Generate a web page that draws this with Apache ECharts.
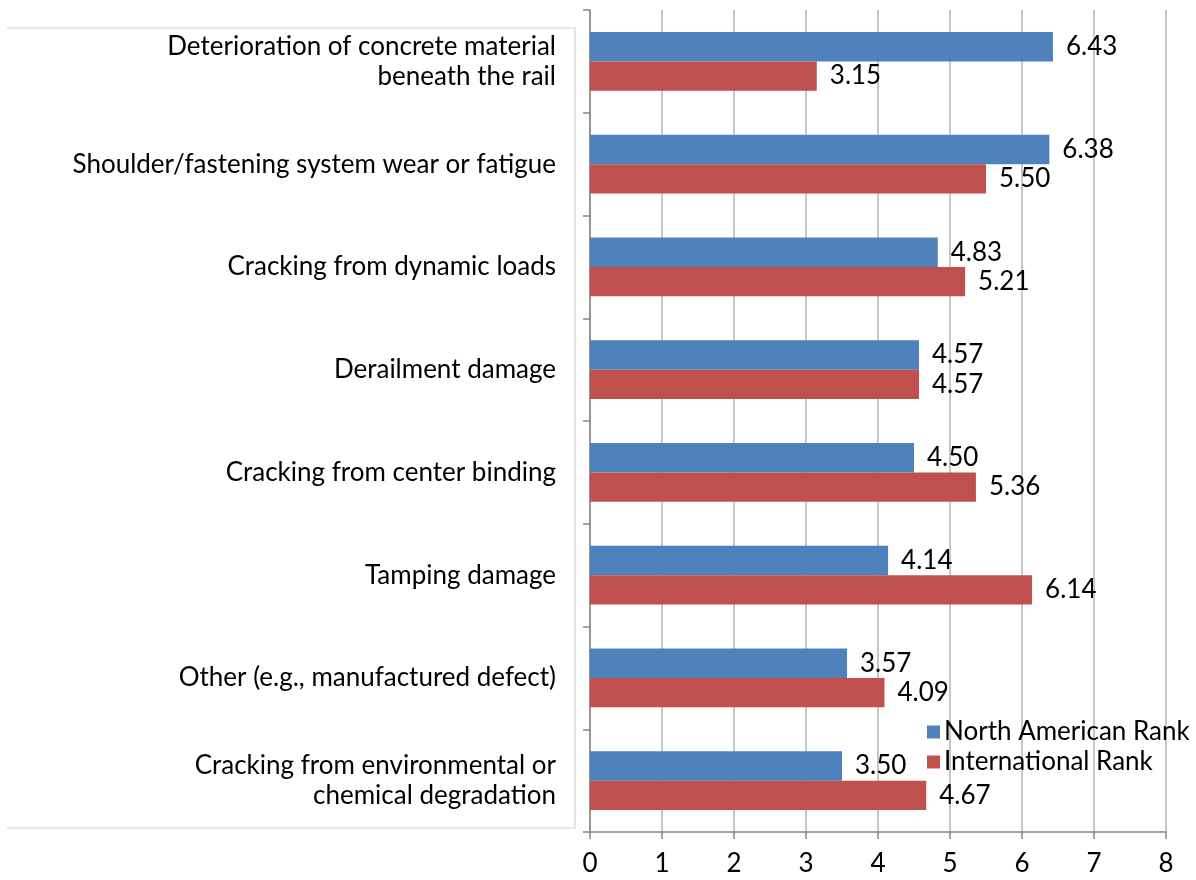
<!DOCTYPE html>
<html>
<head>
<meta charset="utf-8">
<script src="https://cdn.jsdelivr.net/npm/echarts@6/dist/echarts.min.js"></script>
<style>
  html, body { margin: 0; padding: 0; background: #fff; }
  #chart { width: 1196px; height: 880px; }
</style>
</head>
<body>
<div id="chart"></div>
<script>
// Damage causes, listed top to bottom
const categories = [
  'Deterioration of concrete material\nbeneath the rail',
  'Shoulder/fastening system wear or fatigue',
  'Cracking from dynamic loads',
  'Derailment damage',
  'Cracking from center binding',
  'Tamping damage',
  'Other (e.g., manufactured defect)',
  'Cracking from environmental or\nchemical degradation'
];
const northAmericanRank = [6.43, 6.38, 4.83, 4.57, 4.50, 4.14, 3.57, 3.50];
const internationalRank = [3.15, 5.50, 5.21, 4.57, 5.36, 6.14, 4.09, 4.67];
const seriesNames = ['North American Rank', 'International Rank'];
const xTicks = { min: 0, max: 8, interval: 1 };

const FONT = 'Lato, "Open Sans", sans-serif';
const FS = 26;
const chart = echarts.init(document.getElementById('chart'));

const labelStyle = {
  show: true,
  position: 'right',
  distance: 13,
  color: '#000',
  fontFamily: FONT,
  fontSize: FS,
  formatter: p => p.value.toFixed(2)
};

chart.setOption({
  animation: false,
  backgroundColor: '#fff',
  grid: { left: 590, right: 30, top: 10, bottom: 48, containLabel: false },
  legend: {
    orient: 'vertical',
    left: 922,
    top: 714,
    itemWidth: 13,
    itemHeight: 13,
    itemGap: 4,
    icon: 'rect',
    textStyle: { fontFamily: FONT, fontSize: FS, color: '#000', padding: [0, 0, 0, -1] },
    data: seriesNames
  },
  xAxis: {
    type: 'value',
    min: xTicks.min,
    max: xTicks.max,
    interval: xTicks.interval,
    axisLine: { show: true, lineStyle: { color: '#868686', width: 1.5 } },
    axisTick: { show: true, length: 7, lineStyle: { color: '#868686', width: 1.5 } },
    axisLabel: { color: '#000', fontFamily: FONT, fontSize: FS, margin: 19 },
    splitLine: { show: true, lineStyle: { color: '#b4b4b4', width: 1.5 } }
  },
  yAxis: {
    type: 'category',
    inverse: true,
    data: categories,
    axisLine: { show: true, lineStyle: { color: '#868686', width: 1.5 } },
    axisTick: { show: true, length: 7, lineStyle: { color: '#868686', width: 1.5 } },
    axisLabel: {
      color: '#000', fontFamily: FONT, fontSize: FS, margin: 34,
      lineHeight: 30, align: 'right'
    },
    splitLine: { show: false }
  },
  series: [
    {
      name: seriesNames[0],
      type: 'bar',
      data: northAmericanRank,
      itemStyle: { color: '#4f81bd' },
      barGap: '0%',
      barCategoryGap: '43%',
      label: labelStyle
    },
    {
      name: seriesNames[1],
      type: 'bar',
      data: internationalRank,
      itemStyle: { color: '#c0504d' },
      barGap: '0%',
      barCategoryGap: '43%',
      label: labelStyle
    }
  ],
  graphic: [
    // thin frame around the category label area
    {
      type: 'polyline',
      shape: { points: [[7, 28], [575, 28], [575, 828], [7, 828]] },
      style: { stroke: '#cfcfcf', lineWidth: 1.2, fill: null },
      silent: true
    }
  ]
});
</script>
</body>
</html>
